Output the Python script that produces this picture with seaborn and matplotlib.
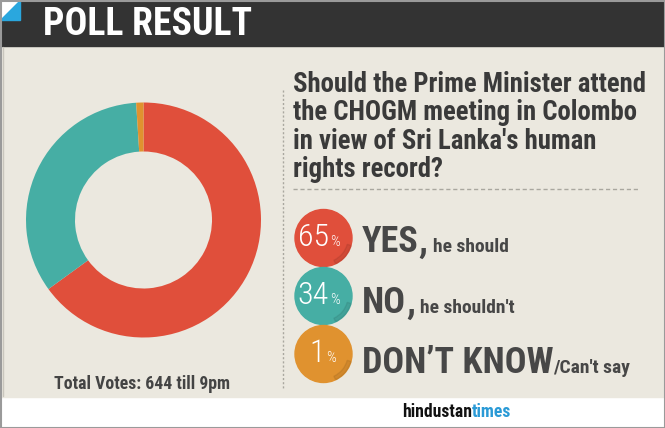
import matplotlib
matplotlib.use("Agg")
import matplotlib.pyplot as plt
import seaborn as sns
from matplotlib import font_manager as fm
from matplotlib.patches import Rectangle, Polygon, Circle, Wedge

# ---- data ----
categories = ["YES", "NO", "DON\u2019T KNOW"]
answer_tails = ["he should", "he shouldn't", "/Can't say"]
percent = [65, 34, 1]
colors = ["#e04f3b", "#46aea4", "#e0922f"]
question = ["Should the Prime Minister attend",
            "the CHOGM meeting in Colombo",
            "in view of Sri Lanka's human",
            "rights record?"]
title = "POLL RESULT"
footnote = "Total Votes: 644 till 9pm"

sns.set_theme(style="white")
names = {f.name for f in fm.fontManager.ttflist}
COND = next((n for n in ["Roboto Condensed", "Barlow Semi Condensed", "Barlow Condensed",
                         "Asap Condensed"] if n in names), "DejaVu Sans")
plt.rcParams["font.family"] = [COND, "DejaVu Sans"]

W, H = 665, 428
fig = plt.figure(figsize=(W / 100, H / 100), dpi=100)
bg = fig.add_axes([0, 0, 1, 1])
bg.set_xlim(0, W)
bg.set_ylim(H, 0)
bg.axis("off")
fig.canvas.draw()
R_ = fig.canvas.get_renderer()


def width_px(t):
    bb = t.get_window_extent(R_)
    return bb.x1 - bb.x0


def fit(t, target):
    w = width_px(t)
    t.set_fontsize(t.get_fontsize() * target / w)
    return t


def right_edge(t):
    bb = t.get_window_extent(R_)
    return bg.transData.inverted().transform((bb.x1, 0))[0]


# backgrounds
bg.add_patch(Rectangle((0, 0), W, H, color="white", zorder=0))
bg.add_patch(Rectangle((0, 46), W, 351, color="#ebe8df", zorder=1))
bg.add_patch(Rectangle((0, 0), W, 46, color="#333333", zorder=1))
bg.add_patch(Polygon([(0, 0), (20, 0), (0, 20)], color="white", zorder=2))
bg.add_patch(Polygon([(20, 0), (20, 20), (0, 20)], color="#2aa7de", zorder=2))
bg.add_patch(Rectangle((0.5, 0.5), W - 1, H - 1, fill=False, ec="#9a9a9a", lw=1.5, zorder=5))
bg.plot([3, 3], [47, 396], color="#c9c6bd", lw=1, zorder=2)
fit(bg.text(43, 35, title, color="white", fontsize=27, fontweight="bold",
            va="baseline", ha="left", zorder=3), 209)

# separators
bg.plot([283, 283], [90, 388], color="#a9a79f", lw=1, ls=(0, (1.5, 1.5)), zorder=2)
bg.plot([293, 640], [189, 189], color="#a9a79f", lw=1, ls=(0, (3, 2)), zorder=2)

# question
qt = []
for i, line in enumerate(question):
    qt.append(bg.text(293, 92 + i * 28.3, line, color="#3a3a3a", fontsize=19.5,
                      fontweight="bold", va="baseline", ha="left", zorder=3))
fit(qt[0], 355)
for t in qt[1:]:
    t.set_fontsize(qt[0].get_fontsize())

# answers
base = [252, 313, 373]
centers = [238, 296, 354]
CAT_FS, TAIL_FS = 26, 14
cat_texts, tail_texts, comma_texts = [], [], []
for yb, yc, c, cat in zip(base, centers, colors, categories):
    bg.add_patch(Circle((323.5, yc), 28.5, color=c, zorder=3))
    bg.add_patch(Wedge((323.5, yc), 28.5, 15, 65, width=4, color="black",
                       alpha=0.07, zorder=3))
    cat_texts.append(bg.text(362, yb, cat, color="#474747", fontsize=CAT_FS,
                             fontweight="bold", va="baseline", ha="left", zorder=4))

for t, yb, tail in zip(cat_texts, base, answer_tails):
    x_end = right_edge(t)
    if not tail.startswith("/"):
        cm = bg.text(x_end, yb, ",", color="#474747", fontsize=CAT_FS,
                     fontweight="bold", va="baseline", ha="left", zorder=4)
        comma_texts.append(cm)
        x_end = right_edge(cm) + 5
    tail_texts.append(bg.text(x_end, yb, tail, color="#474747", fontsize=TAIL_FS,
                              fontweight="bold", va="baseline", ha="left", zorder=4))

# keep the longest line inside the panel
over = right_edge(tail_texts[2])
if over > 645:
    s = (645 - 362) / (over - 362)
    for t in cat_texts + comma_texts + tail_texts:
        t.set_fontsize(t.get_fontsize() * s)
    for t, cm_, tl in zip(cat_texts[:2], comma_texts, tail_texts[:2]):
        cm_.set_x(right_edge(t))
        tl.set_x(right_edge(cm_) + 5)
    tail_texts[2].set_x(right_edge(cat_texts[2]))

pct_x = [329, 329, 325]
for yc, p, px in zip(centers, percent, pct_x):
    bg.text(px, yc + 8, f"{p}", color="white", fontsize=23, fontweight="light",
            va="baseline", ha="right", zorder=4)
    bg.text(px + 1, yc + 8, "%", color="white", fontsize=11, fontweight="light",
            va="baseline", ha="left", zorder=4)

fit(bg.text(142, 389, footnote, color="#444444", fontsize=13, fontweight="bold",
            va="baseline", ha="center", zorder=3), 175)

# logo
lt = bg.text(402, 417, "hindustan", color="#111111", fontsize=14, fontweight="heavy",
             va="baseline", ha="left", zorder=3)
lt2 = bg.text(right_edge(lt), 417, "times", color="#2a9ad6", fontsize=14,
              fontweight="heavy", va="baseline", ha="left", zorder=3)
scale = 110 / (right_edge(lt2) - 402)
for t in (lt, lt2):
    t.set_fontsize(t.get_fontsize() * scale)
lt2.set_x(right_edge(lt))

# donut
cx, cy, R = 143.5, 220, 117.5
ax = fig.add_axes([(cx - R) / W, (H - cy - R) / H, 2 * R / W, 2 * R / H])
ax.pie(percent, colors=colors, startangle=90, counterclock=False,
       wedgeprops=dict(width=49 / R, linewidth=0), radius=1)
ax.set_xlim(-1, 1)
ax.set_ylim(-1, 1)
ax.set_aspect("equal")
ax.axis("off")
ax.patch.set_alpha(0)

fig.savefig("out.png", dpi=100)
